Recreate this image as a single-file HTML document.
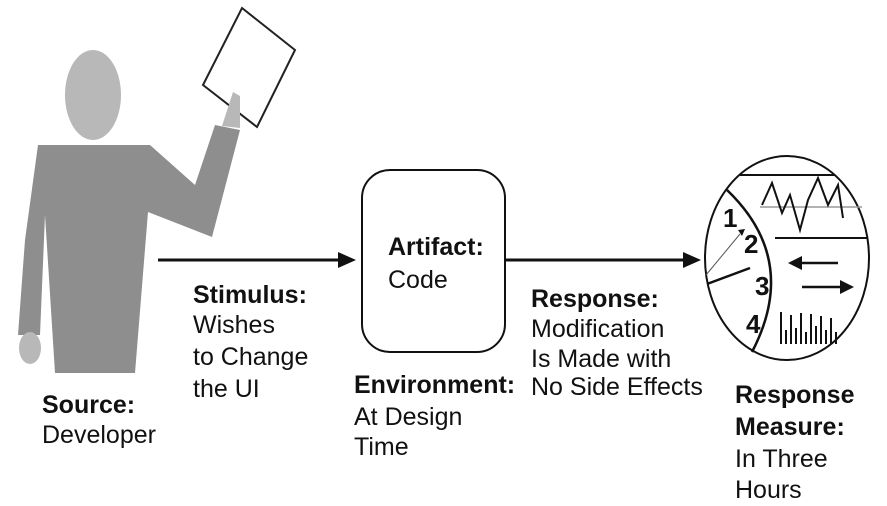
<!DOCTYPE html>
<html><head><meta charset="utf-8"><style>
html,body{margin:0;padding:0;background:#fff;}
svg{display:block;}
text{font-family:"Liberation Sans",Arial,sans-serif;font-size:25px;fill:#111;}
.b{font-weight:bold;}
</style></head><body>
<svg width="887" height="506" viewBox="0 0 887 506" xmlns="http://www.w3.org/2000/svg">
<!-- person -->
<ellipse cx="93" cy="95" rx="28" ry="45" fill="#b8b8b8"/>
<polygon points="38,145 150,145 195,185 215,125 240,130 212,237 148,212 135,373 55,373 45,215 40,335 18,335 25,240" fill="#8e8e8e"/>
<ellipse cx="30" cy="348" rx="11" ry="16" fill="#b8b8b8"/>
<polygon points="242,8 295,50 257,127 203,85" fill="#fff" stroke="#222" stroke-width="2"/>
<polygon points="222,126 233,92 240,96 240,128" fill="#b8b8b8"/>
<!-- arrow 1 -->
<line x1="158" y1="260" x2="340" y2="260" stroke="#111" stroke-width="3"/>
<polygon points="338,252 356,260 338,268" fill="#111"/>
<!-- box -->
<rect x="362" y="170" width="143" height="182" rx="28" fill="#fff" stroke="#111" stroke-width="2"/>
<!-- arrow 2 -->
<line x1="505" y1="260" x2="685" y2="260" stroke="#111" stroke-width="3"/>
<polygon points="683,252 701,260 683,268" fill="#111"/>
<!-- measure circle -->
<ellipse cx="787" cy="258" rx="82" ry="102" fill="#fff" stroke="#111" stroke-width="2"/>
<line x1="740" y1="175" x2="835" y2="175" stroke="#111" stroke-width="2"/>
<line x1="760" y1="207" x2="862" y2="207" stroke="#999" stroke-width="1.5"/>
<line x1="775" y1="238" x2="867" y2="238" stroke="#111" stroke-width="2"/>
<path d="M727,190 Q800,260 752,352" fill="none" stroke="#111" stroke-width="2.5"/>
<polyline points="762,205 772,183 782,213 790,195 800,230 808,200 818,178 828,205 838,185 843,218" fill="none" stroke="#111" stroke-width="2"/>
<text x="723" y="227" class="b" style="font-size:26px">1</text>
<text x="744" y="253" class="b" style="font-size:26px">2</text>
<text x="755" y="295" class="b" style="font-size:26px">3</text>
<text x="746" y="333" class="b" style="font-size:26px">4</text>
<line x1="706" y1="275" x2="740" y2="234" stroke="#555" stroke-width="1"/>
<polygon points="738,230 745,229 742,236" fill="#111"/>
<line x1="707" y1="284" x2="750" y2="268" stroke="#111" stroke-width="2.5"/>
<line x1="800" y1="263" x2="838" y2="263" stroke="#111" stroke-width="2.5"/>
<polygon points="788,263 802,256 802,270" fill="#111"/>
<line x1="802" y1="287" x2="842" y2="287" stroke="#111" stroke-width="2.5"/>
<polygon points="854,287 840,280 840,294" fill="#111"/>
<g stroke="#111" stroke-width="2">
<line x1="781" y1="312" x2="781" y2="344"/><line x1="786" y1="330" x2="786" y2="344"/>
<line x1="791" y1="315" x2="791" y2="344"/><line x1="796" y1="328" x2="796" y2="344"/>
<line x1="801" y1="313" x2="801" y2="344"/><line x1="806" y1="332" x2="806" y2="344"/>
<line x1="811" y1="314" x2="811" y2="344"/><line x1="816" y1="326" x2="816" y2="344"/>
<line x1="821" y1="316" x2="821" y2="344"/><line x1="826" y1="330" x2="826" y2="344"/>
<line x1="831" y1="318" x2="831" y2="344"/><line x1="836" y1="332" x2="836" y2="344"/>
</g>
<!-- labels -->
<text x="42" y="413" class="b">Source:</text>
<text x="42" y="443">Developer</text>
<text x="193" y="303" class="b">Stimulus:</text>
<text x="193" y="333">Wishes</text>
<text x="193" y="365">to Change</text>
<text x="193" y="397">the UI</text>
<text x="388" y="255" class="b">Artifact:</text>
<text x="388" y="288">Code</text>
<text x="354" y="393" class="b">Environment:</text>
<text x="354" y="425">At Design</text>
<text x="354" y="455">Time</text>
<text x="531" y="307" class="b">Response:</text>
<text x="531" y="337">Modification</text>
<text x="531" y="367">Is Made with</text>
<text x="531" y="395">No Side Effects</text>
<text x="735" y="403" class="b">Response</text>
<text x="735" y="435" class="b">Measure:</text>
<text x="735" y="467">In Three</text>
<text x="735" y="498">Hours</text>
</svg>
</body></html>
